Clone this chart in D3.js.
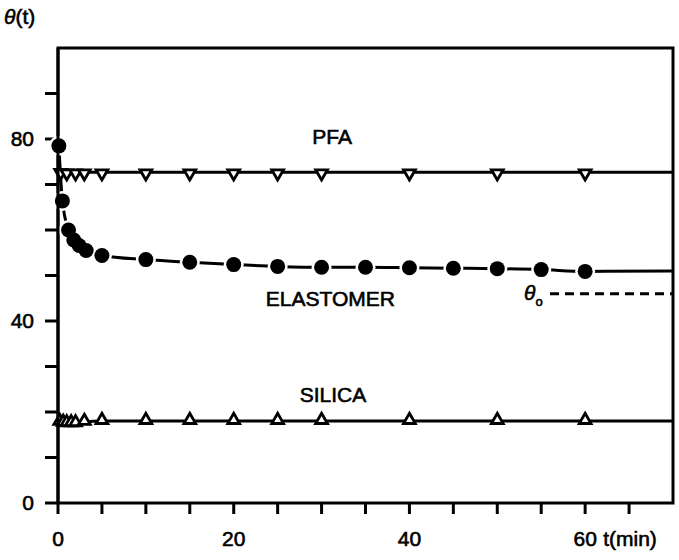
<head>
  <meta charset="UTF-8">
  <script src="https://d3js.org/d3.v7.min.js"></script>
</head>
<body style="margin:0;background:#fff">
  <svg id="chart"></svg>
</body>
<style>
  text {
    font-family: 'Liberation Sans', Arial, sans-serif;
    fill: #000;
    stroke: #000;
    stroke-width: 0.6;
  }
</style>
<script>
  // data (t in minutes, theta in degrees)
  const pfaT = [0.3, 1, 2, 3, 5, 10, 15, 20, 25, 30, 40, 50, 60];
  const pfaV = [72.8, 72.7, 72.7, 72.7, 72.7, 72.7, 72.7, 72.7, 72.7, 72.7, 72.7, 72.7, 72.7];

  const elaT = [0.1, 0.5, 1.2, 1.8, 2.4, 3.2, 5, 10, 15, 20, 25, 30, 35, 40, 45, 50, 55, 60];
  const elaV = [78.5, 66.4, 60, 57.8, 56.6, 55.5, 54.4, 53.5, 52.9, 52.4, 52, 51.8, 51.8, 51.7, 51.6, 51.5, 51.3, 50.9];

  const silT = [0.2, 0.6, 1, 1.5, 2, 3, 5, 10, 15, 20, 25, 30, 40, 50, 60];
  const silV = [17.8, 17.6, 17.5, 17.5, 17.5, 17.8, 18, 18, 18, 18, 18, 18, 18, 18, 18];

  // fitted curves continue to the right edge
  const tEnd = 70;
  const pfaEnd = 72.7, elaEnd = 51, silEnd = 18;
  const theta0 = 46, theta0Start = 56;

  const yTicks = d3.range(0, 100, 10);
  const yLabels = [0, 40, 80];
  const xTicks = d3.range(0, 70, 5);
  const xLabels = [0, 20, 40, 60];

  const W = 679, H = 560;
  const m = { left: 58, right: 6, top: 48, bottom: 57 };

  const svg = d3.select('#chart').attr('width', W).attr('height', H);

  const x = d3.scaleLinear().domain([0, 70]).range([m.left, W - m.right]);
  const y = d3.scaleLinear().domain([0, 100]).range([H - m.bottom, m.top]);

  // frame
  svg.append('rect')
    .attr('x', x(0)).attr('y', y(100))
    .attr('width', x(70) - x(0)).attr('height', y(0) - y(100))
    .attr('fill', 'none').attr('stroke', '#000').attr('stroke-width', 3);

  // y ticks
  svg.append('g').selectAll('line').data(yTicks).join('line')
    .attr('x1', x(0) - 13).attr('x2', x(0))
    .attr('y1', d => y(d)).attr('y2', d => y(d))
    .attr('stroke', '#000').attr('stroke-width', 3);

  svg.append('g').selectAll('text').data(yLabels).join('text')
    .attr('x', 34).attr('y', d => y(d)).attr('dy', '0.35em')
    .attr('text-anchor', 'end').attr('font-size', 21)
    .text(d => d);

  // x ticks
  svg.append('g').selectAll('line').data(xTicks).join('line')
    .attr('x1', d => x(d)).attr('x2', d => x(d))
    .attr('y1', y(0)).attr('y2', y(0) + 11)
    .attr('stroke', '#000').attr('stroke-width', 3);

  svg.append('g').selectAll('text').data(xLabels).join('text')
    .attr('x', d => x(d)).attr('y', y(0) + 43)
    .attr('text-anchor', 'middle').attr('font-size', 21)
    .text(d => d);

  svg.append('text').attr('x', x(60) + 18).attr('y', y(0) + 43)
    .attr('font-size', 21).text('t(min)');

  const yt = svg.append('text').attr('x', 4).attr('y', 24).attr('font-size', 21);
  yt.append('tspan').attr('font-style', 'italic').text('θ');
  yt.append('tspan').text('(t)');

  // curves
  const line = d3.line().x(d => x(d[0])).y(d => y(d[1])).curve(d3.curveMonotoneX);

  function series(ts, vs, endV) {
    const pts = ts.map((t, i) => [t, vs[i]]);
    pts.push([tEnd, endV]);
    return pts;
  }

  const curves = [
    series(pfaT, pfaV, pfaEnd),
    series(elaT, elaV, elaEnd),
    series(silT, silV, silEnd)
  ];

  svg.append('g').selectAll('path').data(curves).join('path')
    .attr('d', line)
    .attr('fill', 'none').attr('stroke', '#000').attr('stroke-width', 3);

  // theta_o dashed line
  svg.append('line')
    .attr('x1', x(theta0Start)).attr('x2', x(tEnd))
    .attr('y1', y(theta0)).attr('y2', y(theta0))
    .attr('stroke', '#000').attr('stroke-width', 3)
    .attr('stroke-dasharray', '9,6');

  const th = svg.append('text').attr('x', x(theta0Start) - 26).attr('y', y(theta0) + 6)
    .attr('font-size', 21);
  th.append('tspan').attr('font-style', 'italic').text('θ');
  th.append('tspan').attr('font-size', 13).attr('dy', 6).text('o');

  // markers
  const tri = d3.symbol().type(d3.symbolTriangle).size(60);

  svg.append('g').selectAll('path').data(pfaT.map((t, i) => [t, pfaV[i]])).join('path')
    .attr('d', tri)
    .attr('transform', d => `translate(${x(d[0])},${y(d[1]) + 1}) rotate(180)`)
    .attr('fill', '#fff').attr('stroke', '#000').attr('stroke-width', 2.8);

  svg.append('g').selectAll('path').data(silT.map((t, i) => [t, silV[i]])).join('path')
    .attr('d', tri)
    .attr('transform', d => `translate(${x(d[0])},${y(d[1]) - 1})`)
    .attr('fill', '#fff').attr('stroke', '#000').attr('stroke-width', 2.8);

  // white halo around the circles to break the line
  svg.append('g').selectAll('circle').data(elaT.map((t, i) => [t, elaV[i]])).join('circle')
    .attr('cx', d => x(d[0])).attr('cy', d => y(d[1])).attr('r', 10)
    .attr('fill', '#fff');
  svg.append('g').selectAll('circle').data(elaT.map((t, i) => [t, elaV[i]])).join('circle')
    .attr('cx', d => x(d[0])).attr('cy', d => y(d[1])).attr('r', 7.5)
    .attr('fill', '#000');

  // redraw the y axis over the halos
  svg.append('line')
    .attr('x1', x(0)).attr('x2', x(0)).attr('y1', y(100)).attr('y2', y(0))
    .attr('stroke', '#000').attr('stroke-width', 3);

  // series labels
  const labels = [['PFA', 31.2, 80.5], ['ELASTOMER', 31, 45], ['SILICA', 31.3, 23.8]];
  svg.append('g').selectAll('text').data(labels).join('text')
    .attr('x', d => x(d[1])).attr('y', d => y(d[2]))
    .attr('dy', '0.35em').attr('text-anchor', 'middle').attr('font-size', 21)
    .text(d => d[0]);
</script>
